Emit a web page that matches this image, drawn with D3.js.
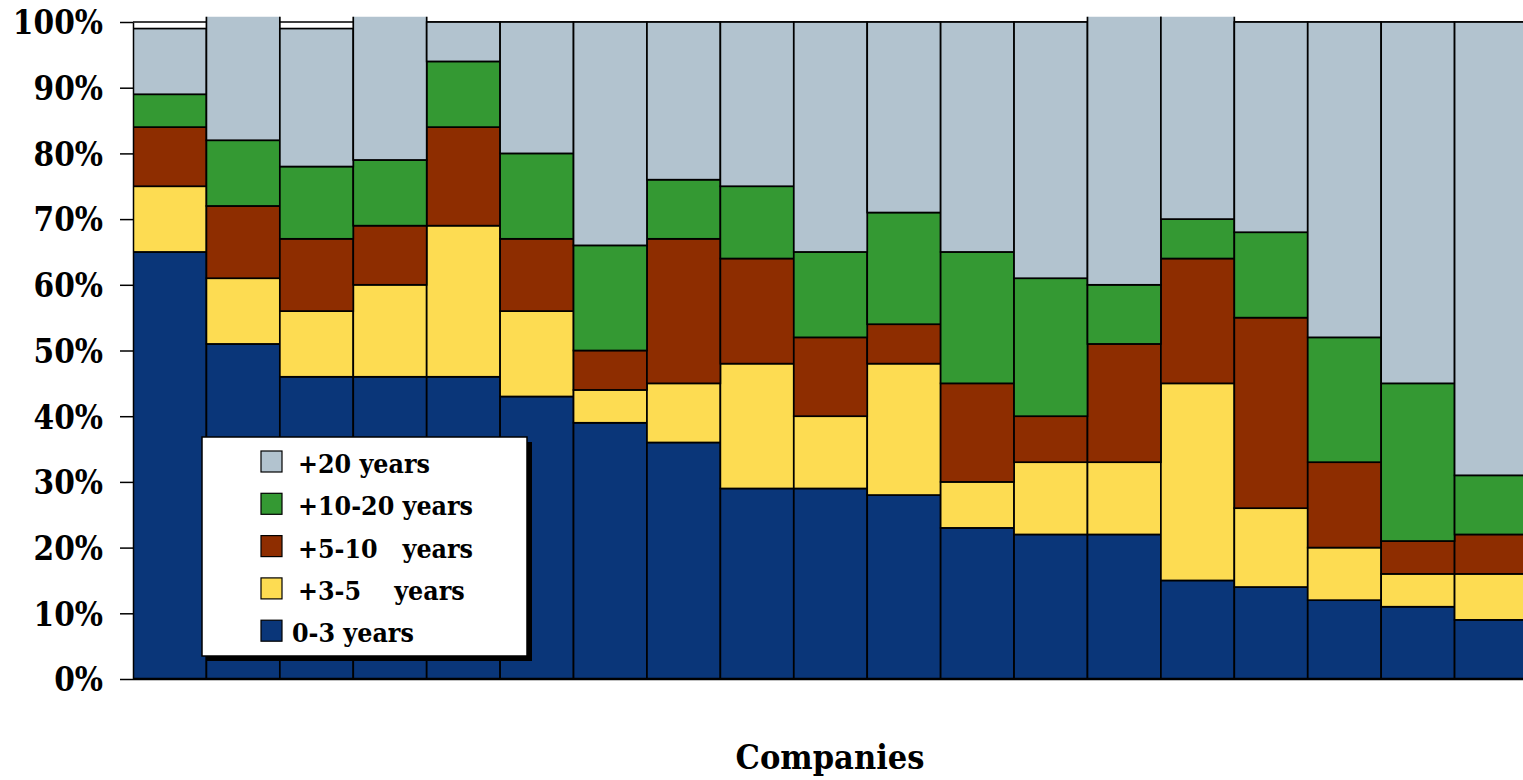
<!DOCTYPE html>
<html>
<head>
<meta charset="utf-8">
<script src="https://cdn.jsdelivr.net/npm/d3@7"></script>
<style>
    body { margin: 0; background: #fff; }
    svg text { font-family: "DejaVu Serif Condensed", "DejaVu Serif", serif; font-stretch: condensed; font-weight: bold; fill: #000; }
</style>
</head>
<body>
<script>
const w = 1523; // width
const h = 780; // height

// one value per company, series stacked bottom to top
const companies = d3.range(1, 20).map(d => "C" + d);
const years0_3   = [65, 51, 46, 46, 46, 43, 39, 36, 29, 29, 28, 23, 22, 22, 15, 14, 12, 11, 9];
const years3_5   = [10, 10, 10, 14, 23, 13, 5, 9, 19, 11, 20, 7, 11, 11, 30, 12, 8, 5, 7];
const years5_10  = [9, 11, 11, 9, 15, 11, 6, 22, 16, 12, 6, 15, 7, 18, 19, 29, 13, 5, 6];
const years10_20 = [5, 10, 11, 10, 10, 13, 16, 9, 11, 13, 17, 20, 21, 9, 6, 13, 19, 24, 9];
const years20    = [10, 21, 21, 24, 6, 20, 34, 24, 25, 35, 29, 35, 39, 43, 33, 32, 48, 55, 69];

const seriesKeys = ["y0_3", "y3_5", "y5_10", "y10_20", "y20"];
const seriesLabels = ["0-3 years", "+3-5    years", "+5-10   years", "+10-20 years", "+20 years"];
const seriesColors = ["#0a3679", "#fddc52", "#8e2d00", "#349933", "#b2c3cf"];
const yTicks = d3.range(0, 101, 10);

const dataset = companies.map((c, i) => ({
    company: c,
    y0_3: years0_3[i],
    y3_5: years3_5[i],
    y5_10: years5_10[i],
    y10_20: years10_20[i],
    y20: years20[i]
}));

let svg = d3.select("body")
    .append("svg")
    .attr("width", w)
    .attr("height", h);

let x = d3.scaleBand()
    .domain(companies)
    .range([133, 1528])
    .padding(0);

let y = d3.scaleLinear()
    .domain([0, 100])
    .range([679, 22]);

let color = d3.scaleOrdinal()
    .domain(seriesKeys)
    .range(seriesColors);

// clip so bars over 100% get cut just above the frame
svg.append("clipPath")
    .attr("id", "plot-clip")
    .append("rect")
    .attr("x", x.range()[0])
    .attr("y", y(100.8))
    .attr("width", x.range()[1] - x.range()[0])
    .attr("height", y(0) - y(100.8));

// top frame line at 100%
svg.append("line")
    .attr("x1", x.range()[0])
    .attr("x2", x.range()[1])
    .attr("y1", y(100))
    .attr("y2", y(100))
    .attr("stroke", "#000")
    .attr("stroke-width", 1.5);

let stacked = d3.stack().keys(seriesKeys)(dataset);

let gBars = svg.append("g")
    .attr("clip-path", "url(#plot-clip)");

gBars.selectAll("g")
    .data(stacked)
    .enter()
    .append("g")
    .attr("fill", d => color(d.key))
    .selectAll("rect")
    .data(d => d)
    .enter()
    .append("rect")
    .attr("x", d => x(d.data.company))
    .attr("width", x.bandwidth())
    .attr("y", d => y(d[1]))
    .attr("height", d => y(d[0]) - y(d[1]))
    .attr("stroke", "#000")
    .attr("stroke-width", 1.7);

// y axis
let axisY = d3.axisLeft(y)
    .tickValues(yTicks)
    .tickSize(13)
    .tickSizeOuter(0)
    .tickPadding(17)
    .tickFormat(d => d + "%");
let gY = svg.append("g")
    .attr("class", "y-axis")
    .attr("transform", `translate(${x.range()[0]}, 0)`)
    .call(axisY);
gY.selectAll("text")
    .style("font-size", "33px")
    .attr("dy", "0.36em");
gY.selectAll("line, path").attr("stroke", "#000").attr("stroke-width", 1.5);

// baseline
svg.append("line")
    .attr("x1", x.range()[0])
    .attr("x2", x.range()[1])
    .attr("y1", y(0))
    .attr("y2", y(0))
    .attr("stroke", "#000")
    .attr("stroke-width", 2.5);

// x axis label
svg.append("text")
    .attr("text-anchor", "middle")
    .attr("x", 830)
    .attr("y", 769)
    .style("font-size", "34px")
    .text("Companies");

// legend
let lg = svg.append("g").attr("class", "legend");
lg.append("rect")
    .attr("x", 207).attr("y", 442)
    .attr("width", 325).attr("height", 219)
    .attr("fill", "#000");
lg.append("rect")
    .attr("x", 202).attr("y", 437)
    .attr("width", 325).attr("height", 219)
    .attr("fill", "#fff")
    .attr("stroke", "#000")
    .attr("stroke-width", 1.5);

let legendOrder = seriesKeys.slice().reverse();
let items = lg.selectAll("g.item")
    .data(legendOrder)
    .enter()
    .append("g")
    .attr("class", "item")
    .attr("transform", (d, i) => `translate(261, ${451 + i * 42.3})`);
items.append("rect")
    .attr("width", 21)
    .attr("height", 21)
    .attr("fill", d => color(d))
    .attr("stroke", "#000")
    .attr("stroke-width", 1.2);
items.append("text")
    .attr("x", d => d === "y0_3" ? 31 : 37)
    .attr("y", 22)
    .style("font-size", "26.5px")
    .style("white-space", "pre")
    .attr("xml:space", "preserve")
    .text(d => seriesLabels[seriesKeys.indexOf(d)]);
</script>
</body>
</html>
